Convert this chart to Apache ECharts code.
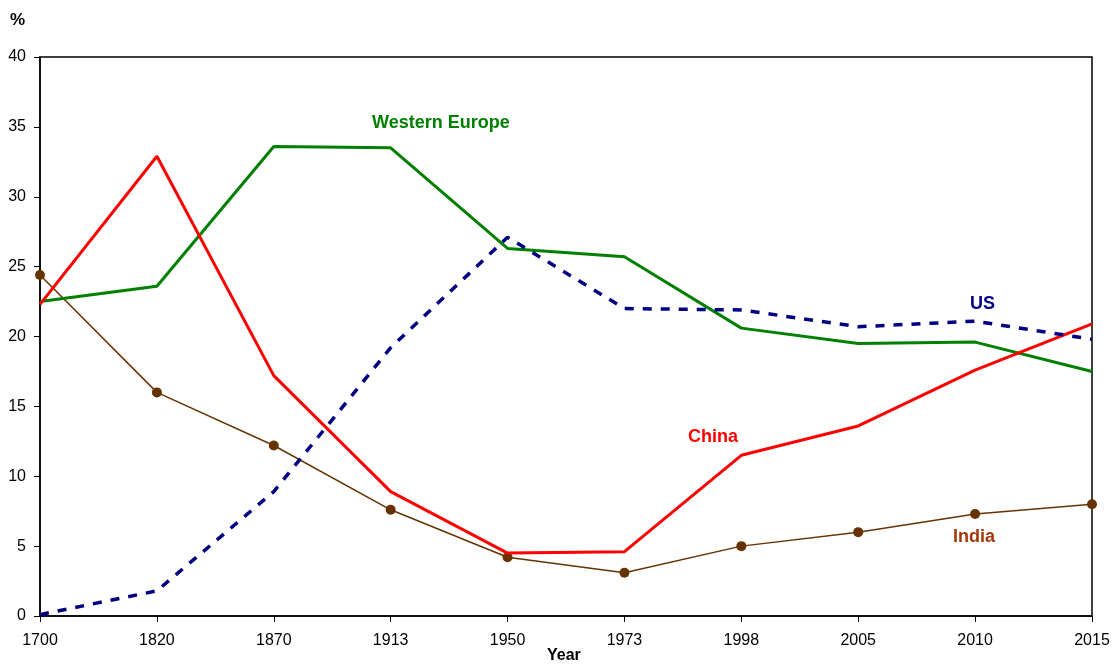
<!DOCTYPE html>
<html>
<head>
<meta charset="utf-8">
<script src="https://cdn.jsdelivr.net/npm/echarts@6/dist/echarts.min.js"></script>
<style>
  html, body { margin: 0; padding: 0; background: #fff; }
  #chart { width: 1119px; height: 665px; }
</style>
</head>
<body>
<div id="chart"></div>
<script>
// years on the x axis
const years = ['1700', '1820', '1870', '1913', '1950', '1973', '1998', '2005', '2010', '2015'];
// share of world GDP, %
const westernEurope = [22.5, 23.6, 33.6, 33.5, 26.3, 25.7, 20.6, 19.5, 19.6, 17.5];
const china = [22.3, 32.9, 17.2, 8.9, 4.5, 4.6, 11.5, 13.6, 17.6, 20.9];
const us = [0.1, 1.8, 8.9, 19.2, 27.1, 22.0, 21.9, 20.7, 21.1, 19.8];
const india = [24.4, 16.0, 12.2, 7.6, 4.2, 3.1, 5.0, 6.0, 7.3, 8.0];

const font = 'Liberation Sans, Arial, sans-serif';

let chart = echarts.init(document.getElementById('chart'));
let option = {
  animation: false,
  textStyle: { fontFamily: font },
  grid: {
    left: 40, right: 27, top: 57, bottom: 49,
    outerBoundsMode: 'none',
    show: true, borderColor: '#000', borderWidth: 1.5, backgroundColor: '#fff'
  },
  xAxis: {
    type: 'category',
    data: years,
    boundaryGap: false,
    axisLine: { lineStyle: { color: '#000', width: 1.5 } },
    axisTick: { alignWithLabel: true, length: 6, lineStyle: { color: '#000' } },
    axisLabel: { color: '#000', fontSize: 16, margin: 17, fontFamily: font },
    splitLine: { show: false }
  },
  yAxis: {
    type: 'value',
    min: 0,
    max: 40,
    interval: 5,
    name: '%',
    nameLocation: 'end',
    nameGap: 28,
    nameTextStyle: { fontFamily: font, fontWeight: 'bold', fontSize: 17, color: '#000', align: 'right', padding: [0, 15, 0, 0] },
    axisLine: { show: true, lineStyle: { color: '#000', width: 1.5 } },
    axisTick: { show: true, length: 6, lineStyle: { color: '#000' } },
    axisLabel: { color: '#000', fontSize: 16, margin: 14, fontFamily: font },
    splitLine: { show: false }
  },
  series: [
    {
      name: 'Western Europe',
      type: 'line',
      data: westernEurope,
      symbol: 'none',
      lineStyle: { color: '#008000', width: 3 },
      z: 3
    },
    {
      name: 'China',
      type: 'line',
      data: china,
      symbol: 'none',
      lineStyle: { color: '#ff0000', width: 3 },
      z: 4
    },
    {
      name: 'US',
      type: 'line',
      data: us,
      symbol: 'none',
      lineStyle: { color: '#000080', width: 3.5, type: [9, 9] },
      z: 5
    },
    {
      name: 'India',
      type: 'line',
      data: india,
      symbol: 'circle',
      symbolSize: 10,
      itemStyle: { color: '#663300' },
      lineStyle: { color: '#663300', width: 1.5 },
      z: 2
    }
  ],
  graphic: [
    { type: 'text', left: 547, top: 648, style: { text: 'Year', fill: '#000', font: 'bold 16px ' + font } },
    { type: 'text', left: 372, top: 114, style: { text: 'Western Europe', fill: '#008000', font: 'bold 18px ' + font } },
    { type: 'text', left: 970, top: 295, style: { text: 'US', fill: '#000080', font: 'bold 18px ' + font } },
    { type: 'text', left: 688, top: 428, style: { text: 'China', fill: '#ff0000', font: 'bold 18px ' + font } },
    { type: 'text', left: 953, top: 528, style: { text: 'India', fill: '#a0380a', font: 'bold 18px ' + font } }
  ]
};
chart.setOption(option);
</script>
</body>
</html>
